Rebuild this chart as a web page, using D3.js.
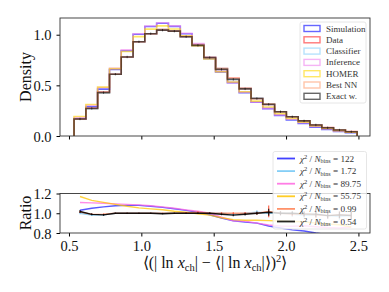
<!DOCTYPE html>
<html lang="en">
<head>
  <meta charset="UTF-8">
  <title>Ratio plot</title>
  <script src="https://d3js.org/d3.v7.min.js"></script>
</head>
<style>
  body { margin: 0; background: white; }
  text { font-family: "Liberation Serif", serif; fill: #111; }
  .hist { fill: none; stroke-width: 1.6px; stroke-opacity: 0.6; }
  .rline { fill: none; stroke-width: 1.4px; }
</style>
<body>
<svg id="chart" width="389" height="292"></svg>

<script>
  // bin edges of the histogram
  const binEdges = [0.535, 0.617, 0.698, 0.780, 0.861, 0.943, 1.024, 1.106, 1.187, 1.269, 1.350,
    1.432, 1.513, 1.595, 1.676, 1.758, 1.839, 1.921, 2.002, 2.084, 2.165, 2.247, 2.328, 2.410, 2.491];

  const dataH = [0.165, 0.275, 0.435, 0.61, 0.78, 0.93, 1.01, 1.05, 1.035, 0.98, 0.895, 0.775,
    0.665, 0.57, 0.47, 0.37, 0.31, 0.24, 0.19, 0.15, 0.11, 0.083, 0.06, 0.043];
  const simulationH = [0.170, 0.289, 0.463, 0.656, 0.842, 1.004, 1.081, 1.113, 1.082, 1.009, 0.904, 0.763,
    0.632, 0.527, 0.428, 0.333, 0.270, 0.204, 0.158, 0.123, 0.088, 0.065, 0.046, 0.032];
  const classifierH = [0.165, 0.270, 0.428, 0.61, 0.78, 0.93, 1.01, 1.05, 1.035, 0.98, 0.895, 0.775,
    0.665, 0.564, 0.47, 0.374, 0.31, 0.24, 0.188, 0.147, 0.108, 0.081, 0.058, 0.042];
  const inferenceH = [0.183, 0.304, 0.479, 0.668, 0.850, 1.009, 1.086, 1.118, 1.087, 1.014, 0.913, 0.775,
    0.638, 0.527, 0.432, 0.333, 0.273, 0.209, 0.165, 0.131, 0.095, 0.071, 0.051, 0.037];
  const homerH = [0.193, 0.311, 0.483, 0.665, 0.835, 0.981, 1.055, 1.087, 1.056, 0.990, 0.891, 0.760,
    0.635, 0.533, 0.437, 0.344, 0.287, 0.221, 0.174, 0.137, 0.099, 0.074, 0.053, 0.037];
  const bestNNH = [0.167, 0.272, 0.431, 0.61, 0.78, 0.93, 1.01, 1.05, 1.035, 0.985, 0.904, 0.775,
    0.665, 0.57, 0.47, 0.37, 0.316, 0.24, 0.188, 0.149, 0.108, 0.081, 0.059, 0.042];
  const exactH = [0.168, 0.272, 0.428, 0.61, 0.78, 0.93, 1.01, 1.045, 1.035, 0.98, 0.895, 0.775,
    0.658, 0.559, 0.465, 0.37, 0.313, 0.24, 0.19, 0.149, 0.109, 0.081, 0.059, 0.042];

  // ratio uncertainties
  const exactErr = [0.015, 0.01, 0.008, 0.006, 0.005, 0.005, 0.005, 0.005, 0.005, 0.006, 0.007, 0.008,
    0.009, 0.01, 0.012, 0.015, 0.035, 0.02, 0.02, 0.025, 0.03, 0.03, 0.035, 0.04];
  const classifierErr = [0.01, 0.01, 0.008, 0.006, 0.005, 0.005, 0.005, 0.005, 0.005, 0.006, 0.007, 0.008,
    0.009, 0.01, 0.012, 0.02, 0.02, 0.02, 0.025, 0.03, 0.03, 0.035, 0.035, 0.04];
  const bestNNErr = [0.01, 0.008, 0.006, 0.005, 0.005, 0.005, 0.005, 0.005, 0.005, 0.006, 0.007, 0.008,
    0.009, 0.01, 0.012, 0.015, 0.06, 0.02, 0.02, 0.025, 0.03, 0.03, 0.035, 0.04];

  const histLabels = ["Simulation", "Data", "Classifier", "Inference", "HOMER", "Best NN", "Exact w."];
  const histColors = ["#0000ff", "#ff2020", "#87cefa", "#ee82ee", "#ffd700", "#ff9f70", "#000000"];
  const histValues = [simulationH, dataH, classifierH, inferenceH, homerH, bestNNH, exactH];

  const chiValues = ["122", "1.72", "89.75", "55.75", "0.99", "0.54"];
  const ratioColors = ["#2020ff", "#6ec6f5", "#ff66e0", "#ffc400", "#ff7f50", "#000000"];
  const ratioValues = [simulationH, classifierH, inferenceH, homerH, bestNNH, exactH];
  const ratioErrs = [null, classifierErr, null, null, bestNNErr, exactErr];

  const xTicks = [0.5, 1.0, 1.5, 2.0, 2.5];
  const topTicks = [0.0, 0.5, 1.0];
  const ratioTicks = [0.8, 1.0, 1.2];

  const svg = d3.select("#chart");
  const L = 60, R = 370;

  const x = d3.scaleLinear().domain([0.438, 2.58]).range([L, R]);
  const yTop = d3.scaleLinear().domain([0, 1.165]).range([136, 18]);
  const yRat = d3.scaleLinear().domain([0.8, 1.2]).range([233, 193.5]);

  const centers = binEdges.slice(0, -1).map((e, i) => (e + binEdges[i + 1]) / 2);

  // clip regions
  const defs = svg.append("defs");
  defs.append("clipPath").attr("id", "clipTop").append("rect")
    .attr("x", L).attr("y", 18).attr("width", R - L).attr("height", 136 - 18);
  defs.append("clipPath").attr("id", "clipRat").append("rect")
    .attr("x", L).attr("y", 193.5).attr("width", R - L).attr("height", 233 - 193.5);

  // ---------- top panel ----------
  const gTop = svg.append("g").attr("clip-path", "url(#clipTop)");
  const stepLine = d3.line().x(d => x(d[0])).y(d => yTop(d[1]));

  histValues.forEach((h, k) => {
    let pts = [[binEdges[0], 0]];
    h.forEach((v, i) => { pts.push([binEdges[i], v]); pts.push([binEdges[i + 1], v]); });
    pts.push([binEdges[binEdges.length - 1], 0]);
    gTop.append("path").attr("class", "hist")
      .attr("d", stepLine(pts))
      .attr("stroke", histColors[k])
      .attr("stroke-opacity", k == 6 ? 0.7 : 0.55);
  });

  // small error bars on exact weights histogram
  gTop.selectAll(".eb").data(centers).join("line")
    .attr("x1", d => x(d)).attr("x2", d => x(d))
    .attr("y1", (d, i) => yTop(exactH[i]) - 1.2)
    .attr("y2", (d, i) => yTop(exactH[i]) + 1.2)
    .attr("stroke", "#000").attr("stroke-width", 0.8).attr("stroke-opacity", 0.7);

  svg.append("g").attr("transform", "translate(0,136)")
    .call(d3.axisBottom(x).tickValues(xTicks).tickSize(3.5).tickFormat(""))
    .call(g => g.select(".domain").remove());
  svg.append("g").attr("transform", `translate(${L},0)`)
    .call(d3.axisLeft(yTop).tickValues(topTicks).tickSize(3.5).tickPadding(5).tickFormat(d3.format(".1f")))
    .call(g => g.select(".domain").remove())
    .call(g => g.selectAll("text").style("font-size", "14.5px").style("font-family", "Liberation Serif").attr("dy", "0.35em"));
  svg.append("rect").attr("x", L).attr("y", 18).attr("width", R - L).attr("height", 118)
    .attr("fill", "none").attr("stroke", "#333").attr("stroke-width", 0.9);

  svg.append("text").attr("transform", "translate(31,77) rotate(-90)")
    .attr("text-anchor", "middle").style("font-size", "16px").text("Density");

  // top legend
  const lg = svg.append("g");
  lg.append("rect").attr("x", 300).attr("y", 22).attr("width", 66).attr("height", 81).attr("rx", 2)
    .attr("fill", "white").attr("fill-opacity", 0.8).attr("stroke", "#e0e0e0").attr("stroke-width", 0.8);
  histLabels.forEach((lab, k) => {
    const yy = 28.5 + k * 11.3;
    lg.append("rect").attr("x", 304).attr("y", yy - 3).attr("width", 16).attr("height", 6)
      .attr("fill", "none").attr("stroke", histColors[k]).attr("stroke-opacity", 0.6).attr("stroke-width", 1.4);
    lg.append("text").attr("x", 326).attr("y", yy + 3).style("font-size", "9px").style("fill", "#333").text(lab);
  });

  // ---------- ratio panel ----------
  const gRat = svg.append("g").attr("clip-path", "url(#clipRat)");
  const rLine = d3.line().x(d => x(d[0])).y(d => yRat(d[1]));

  ratioValues.forEach((h, k) => {
    const pts = centers.map((c, i) => [c, h[i] / dataH[i]]);
    gRat.append("path").attr("class", "rline").attr("d", rLine(pts))
      .attr("stroke", ratioColors[k]).attr("stroke-opacity", k == 5 ? 0.9 : 0.75);
    if (ratioErrs[k]) {
      gRat.selectAll(null).data(pts).join("line")
        .attr("x1", d => x(d[0])).attr("x2", d => x(d[0]))
        .attr("y1", (d, i) => yRat(d[1] - ratioErrs[k][i]))
        .attr("y2", (d, i) => yRat(d[1] + ratioErrs[k][i]))
        .attr("stroke", k == 4 ? "#ff4020" : ratioColors[k]).attr("stroke-width", 1.2)
        .attr("stroke-opacity", 0.8);
    }
  });

  svg.append("g").attr("transform", "translate(0,233)")
    .call(d3.axisBottom(x).tickValues(xTicks).tickSize(3.5).tickPadding(4).tickFormat(d3.format(".1f")))
    .call(g => g.select(".domain").remove())
    .call(g => g.selectAll("text").style("font-size", "14.5px").style("font-family", "Liberation Serif"));
  svg.append("g").attr("transform", `translate(${L},0)`)
    .call(d3.axisLeft(yRat).tickValues(ratioTicks).tickSize(3.5).tickPadding(5).tickFormat(d3.format(".1f")))
    .call(g => g.select(".domain").remove())
    .call(g => g.selectAll("text").style("font-size", "14.5px").style("font-family", "Liberation Serif").attr("dy", "0.35em"));
  svg.append("rect").attr("x", L).attr("y", 193.5).attr("width", R - L).attr("height", 233 - 193.5)
    .attr("fill", "none").attr("stroke", "#333").attr("stroke-width", 0.9);

  svg.append("text").attr("transform", "translate(31,213) rotate(-90)")
    .attr("text-anchor", "middle").style("font-size", "16px").text("Ratio");

  // x label
  const xl = svg.append("text").attr("x", 215).attr("y", 268).attr("text-anchor", "middle").style("font-size", "16px");
  xl.append("tspan").text("⟨(| ln ");
  xl.append("tspan").style("font-style", "italic").text("x");
  xl.append("tspan").attr("dy", 3).style("font-size", "10.5px").text("ch");
  xl.append("tspan").attr("dy", -3).text("| − ⟨| ln ");
  xl.append("tspan").style("font-style", "italic").text("x");
  xl.append("tspan").attr("dy", 3).style("font-size", "10.5px").text("ch");
  xl.append("tspan").attr("dy", -3).text("|⟩)");
  xl.append("tspan").attr("dy", -6).style("font-size", "10.5px").text("2");
  xl.append("tspan").attr("dy", 6).text("⟩");

  // ratio legend
  const rl = svg.append("g");
  rl.append("rect").attr("x", 273).attr("y", 151.5).attr("width", 93.5).attr("height", 77.5).attr("rx", 2)
    .attr("fill", "white").attr("fill-opacity", 0.8).attr("stroke", "#e0e0e0").attr("stroke-width", 0.8);
  chiValues.forEach((v, k) => {
    const yy = 158.5 + k * 12.6;
    rl.append("line").attr("x1", 277).attr("x2", 295).attr("y1", yy).attr("y2", yy)
      .attr("stroke", ratioColors[k]).attr("stroke-width", 1.8).attr("stroke-opacity", 0.85);
    const t = rl.append("text").attr("x", 300).attr("y", yy + 3).style("font-size", "9.2px").style("fill", "#333");
    t.append("tspan").style("font-style", "italic").text("χ");
    t.append("tspan").attr("dy", -3).style("font-size", "6.5px").text("2");
    t.append("tspan").attr("dy", 3).text(" / ");
    t.append("tspan").style("font-style", "italic").text("N");
    t.append("tspan").attr("dy", 1.5).style("font-size", "6px").text("bins");
    t.append("tspan").attr("dy", -1.5).text(" = " + v);
  });
</script>
</body>
</html>
